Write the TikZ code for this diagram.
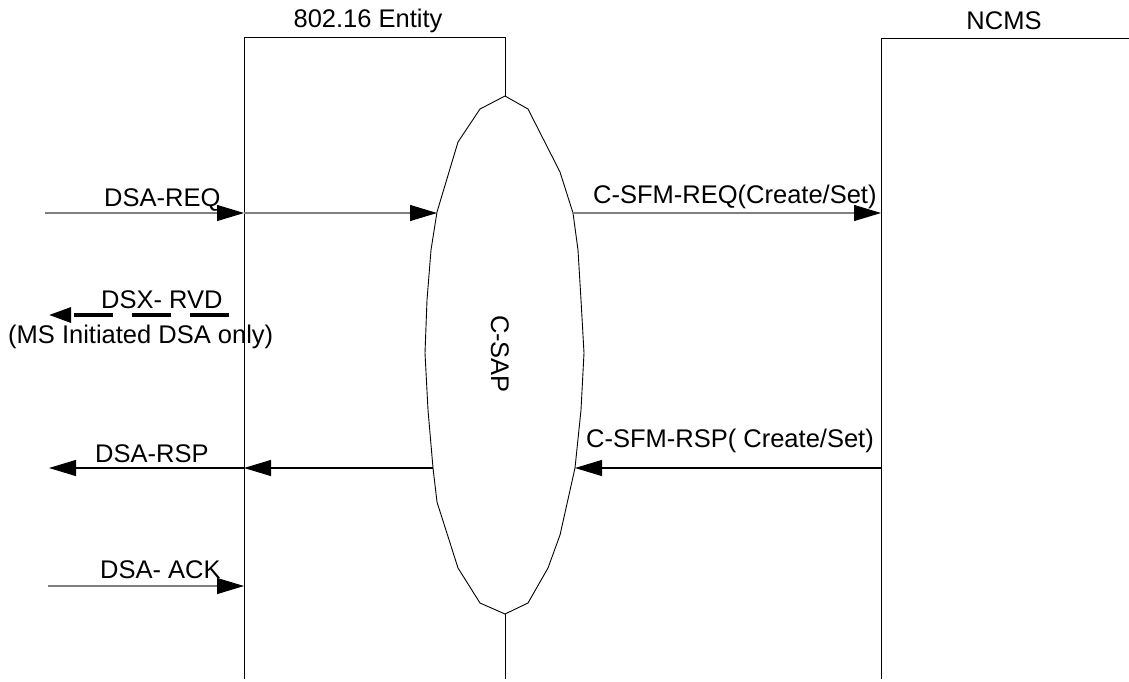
\documentclass[tikz,border=0pt]{standalone}
\usepackage{fontspec}
\setmainfont{Liberation Sans}
\usetikzlibrary{arrows.meta}
\begin{document}
\begin{tikzpicture}[x=1pt,y=-1pt,
  every node/.style={inner sep=0pt,font=\fontsize{25.5}{30}\selectfont},
  lbl/.style={anchor=base west},
  life/.style={draw=black,line width=1pt},
  msg/.style={line width=1.1pt,-{Triangle[length=27pt,width=16pt,color=black]}},
  gmsg/.style={msg,draw=black!50},
  bmsg/.style={msg,draw=black},
  dmsg/.style={line width=3.2pt,draw=black,dash pattern=on 39pt off 19pt,-{Triangle[length=22pt,width=15pt]}}]
\useasboundingbox (0,0) rectangle (1129,681);
% lifelines
\coordinate (eBL) at (244,679);
\coordinate (eTL) at (244,37.5);
\coordinate (eTR) at (505,37.5);
\coordinate (sapT) at (505,96);
\coordinate (sapB) at (505,614);
\coordinate (sapE) at (505,679);
\coordinate (nB) at (881,679);
\coordinate (nT) at (881,38);
\coordinate (nR) at (1129,38);
\draw[life] (eBL) -- (eTL) -- (eTR) -- (sapT);
\draw[life] (sapB) -- (sapE);
\draw[life] (nB) -- (nT) -- (nR);
\node (ent) at (368,21) {802.16 Entity};
\node (ncms) at (1004,21) {NCMS};
% C-SAP shape
\draw[line width=0.9pt] (505,96) -- (480,109) -- (458,142) -- (437,212) -- (431,250) -- (427,300) -- (425,353)
  -- (428,410) -- (433,468) -- (437,502) -- (458,568) -- (480,603) -- (505,614)
  -- (528,603) -- (548,568) -- (560,535) -- (575,468) -- (581,410) -- (584,353) -- (581,300) -- (578,250)
  -- (573,213) -- (560,172) -- (528,109) -- cycle;
\node[rotate=-90] (csap) at (500,354) {C-SAP};
% coordinates of message ends
\coordinate (reqA) at (45,213);
\coordinate (reqB) at (244,213);
\coordinate (reqC) at (437,213);
\coordinate (sreqA) at (572,213);
\coordinate (sreqB) at (881,213);
\coordinate (rvdA) at (229,315);
\coordinate (rvdB) at (49,315);
\coordinate (rspA) at (433,468);
\coordinate (rspB) at (244,468);
\coordinate (rspC) at (49,468);
\coordinate (srspA) at (881,468);
\coordinate (srspB) at (575,468);
\coordinate (ackA) at (48,586);
\coordinate (ackB) at (244,586);
% messages
\draw[gmsg] (reqA) -- (reqB);
\draw[gmsg] (reqB) -- (reqC);
\draw[gmsg] (sreqA) -- (sreqB);
\draw[dmsg] (rvdA) -- (rvdB);
\draw[bmsg] (rspA) -- (rspB);
\draw[bmsg] (rspB) -- (rspC);
\draw[bmsg] (srspA) -- (srspB);
\draw[gmsg] (ackA) -- (ackB);
% labels
\node[lbl] (lreq) at (104,206) {DSA-REQ};
\node[lbl] (lsreq) at (593,203) {C-SFM-REQ(Create/Set)};
\node[lbl] (lrvd) at (101,308) {DSX- RVD};
\node[lbl] (lms) at (8,343) {(MS Initiated DSA only)};
\node[lbl] (lrsp) at (95,462) {DSA-RSP};
\node[lbl] (lsrsp) at (586,447) {C-SFM-RSP( Create/Set)};
\node[lbl] (lack) at (100,578) {DSA- ACK};
\end{tikzpicture}
\end{document}
